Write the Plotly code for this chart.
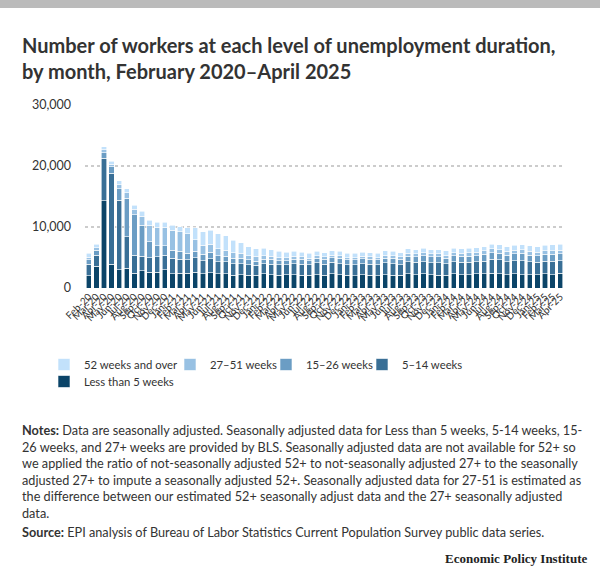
import plotly.graph_objects as go

months = ["Feb-20","Mar-20","Apr-20","May-20","Jun-20","Jul-20","Aug-20","Sep-20","Oct-20","Nov-20","Dec-20",
          "Jan-21","Feb-21","Mar-21","Apr-21","May-21","Jun-21","Jul-21","Aug-21","Sep-21","Oct-21","Nov-21","Dec-21",
          "Jan-22","Feb-22","Mar-22","Apr-22","May-22","Jun-22","Jul-22","Aug-22","Sep-22","Oct-22","Nov-22","Dec-22",
          "Jan-23","Feb-23","Mar-23","Apr-23","May-23","Jun-23","Jul-23","Aug-23","Sep-23","Oct-23","Nov-23","Dec-23",
          "Jan-24","Feb-24","Mar-24","Apr-24","May-24","Jun-24","Jul-24","Aug-24","Sep-24","Oct-24","Nov-24","Dec-24",
          "Jan-25","Feb-25","Mar-25","Apr-25"]

# thousands of workers
less_than_5 = [2000,3600,14300,3900,3000,3200,2400,2800,2600,2600,3000,
               2300,2400,2400,2600,2300,2500,2300,2300,2100,2200,2100,2100,
               2300,2200,2100,2200,2200,2100,2100,2200,2100,2300,2200,2100,
               2000,2200,2100,2000,2200,2100,2100,2300,2200,2300,2200,2100,
               2100,2300,2200,2200,2300,2300,2400,2300,2200,2300,2200,2200,
               2200,2300,2200,2400]
w5_14 = [1900,1800,7000,14900,11400,5200,3000,2400,2400,2500,2400,
         2600,2300,2200,2400,2200,2300,2000,2000,1900,1800,1700,1600,
         1700,1700,1700,1600,1800,1800,1700,1900,1800,1900,1800,1700,
         1800,1800,1800,1800,1900,1900,1700,2000,2000,2000,1900,2000,
         1900,2000,2000,2000,2000,2100,2300,2300,2100,2200,2300,2100,
         2000,2100,2200,2100]
w15_26 = [700,750,900,1100,1900,6300,6600,5100,2600,1800,1500,
          1250,1300,1100,1000,1000,1100,1000,900,900,900,800,700,
          700,800,700,700,700,800,700,800,800,800,900,800,
          800,800,800,800,800,900,900,900,900,1000,1000,1000,
          900,1000,1000,1000,1000,1100,1100,1100,1100,1100,1200,1100,
          1100,1100,1100,1100]
w27_51 = [450,450,450,400,600,900,900,1500,2700,3100,3100,
          3300,3200,3200,1900,1500,1300,1100,1000,900,800,700,800,
          600,500,500,500,500,400,400,400,400,400,400,400,
          400,400,400,400,500,400,400,500,500,500,500,500,
          500,500,500,600,600,600,600,600,600,600,600,600,
          600,600,600,600]
w52_over = [650,600,500,500,650,700,700,800,800,800,800,
            800,850,1000,2000,2200,2300,2500,2400,2000,1700,1500,1200,
            1200,1100,1000,900,800,800,800,700,700,700,700,700,
            700,700,700,700,700,700,700,700,700,700,700,700,
            700,700,700,700,700,700,800,800,800,800,800,900,
            900,900,1000,1000]

series = [
    ("Less than 5 weeks", less_than_5, "#0b4468", "legend5"),
    ("5–14 weeks", w5_14, "#396f96", "legend4"),
    ("15–26 weeks", w15_26, "#6b9dc4", "legend3"),
    ("27–51 weeks", w27_51, "#98c1e3", "legend2"),
    ("52 weeks and over", w52_over, "#c2e1fb", "legend"),
]

fig = go.Figure()
for name, vals, col, lg in series:
    fig.add_trace(go.Bar(x=months, y=vals, name=name, legend=lg,
                         marker=dict(color=col, line=dict(color="white", width=0.6))))

FONT = "Lato"
L, R, T, B = 85, 36, 105, 290
W, H = 600, 578
pw, ph = W - L - R, H - T - B

def px(X):
    return (X - L) / pw

def py(Y):
    return (H - B - Y) / ph

LEG_Y1, LEG_Y2 = 350, 367
def leg(X, Y):
    return dict(x=px(X - 18), y=py(Y), xanchor="left", yanchor="top", orientation="h",
                font=dict(size=11.3, color="#333333", family=FONT), bgcolor="rgba(0,0,0,0)")

fig.update_layout(
    width=W, height=H,
    margin=dict(l=L, r=R, t=T, b=B, autoexpand=False),
    barmode="stack", bargap=0.3,
    plot_bgcolor="white", paper_bgcolor="white",
    font=dict(family=FONT, color="#333333", size=12),
    showlegend=True,
    legend=leg(62, LEG_Y1),
    legend2=leg(188, LEG_Y1),
    legend3=leg(284, LEG_Y1),
    legend4=leg(380, LEG_Y1),
    legend5=leg(62, LEG_Y2),
    xaxis=dict(type="category", tickangle=-45, tickfont=dict(size=10, color="#333333"), dtick=1,
               showgrid=False, showline=False, ticks="", automargin=False),
    yaxis=dict(range=[0, 30000], tickvals=[0, 10000, 20000, 30000], tickformat=",",
               showgrid=True, gridcolor="#cccccc", griddash="dot", gridwidth=1.5,
               zeroline=False, tickfont=dict(size=12.5, color="#333333"), ticks="", ticklen=0,
               ticklabelstandoff=13, automargin=False),
    shapes=[dict(type="rect", xref="paper", yref="paper", x0=px(0), x1=px(W), y0=py(8), y1=py(0),
                 fillcolor="#bbbbbb", line=dict(width=0), layer="above")],
    annotations=[
        dict(xref="paper", yref="paper", x=px(20), y=py(31), xanchor="left", yanchor="top", align="left",
             showarrow=False, text="<b>Number of workers at each level of unemployment duration,<br>by month, February 2020–April 2025</b>",
             font=dict(size=20, color="#333333", family=FONT)),
        dict(xref="paper", yref="paper", x=px(20), y=py(420), xanchor="left", yanchor="top", align="left",
             showarrow=False,
             text=("<b>Notes:</b> Data are seasonally adjusted. Seasonally adjusted data for Less than 5 weeks, 5-14 weeks, 15-<br>"
                   "26 weeks, and 27+ weeks are provided by BLS. Seasonally adjusted data are not available for 52+ so<br>"
                   "we applied the ratio of not-seasonally adjusted 52+ to not-seasonally adjusted 27+ to the seasonally<br>"
                   "adjusted 27+ to impute a seasonally adjusted 52+. Seasonally adjusted data for 27-51 is estimated as<br>"
                   "the difference between our estimated 52+ seasonally adjust data and the 27+ seasonally adjusted<br>"
                   "data."),
             font=dict(size=12.7, color="#333333", family=FONT)),
        dict(xref="paper", yref="paper", x=px(20), y=py(522), xanchor="left", yanchor="top", align="left",
             showarrow=False,
             text="<b>Source:</b> EPI analysis of Bureau of Labor Statistics Current Population Survey public data series.",
             font=dict(size=12.7, color="#333333", family=FONT)),
        dict(xref="paper", yref="paper", x=px(589), y=py(558), xanchor="right", yanchor="middle",
             showarrow=False, text="<b>Economic Policy Institute</b>",
             font=dict(size=13, color="#222222", family="Liberation Serif")),
    ],
)

fig.write_html("out.html", config={"displayModeBar": False},
               post_script="document.body.style.margin='0';document.body.style.padding='0';")
